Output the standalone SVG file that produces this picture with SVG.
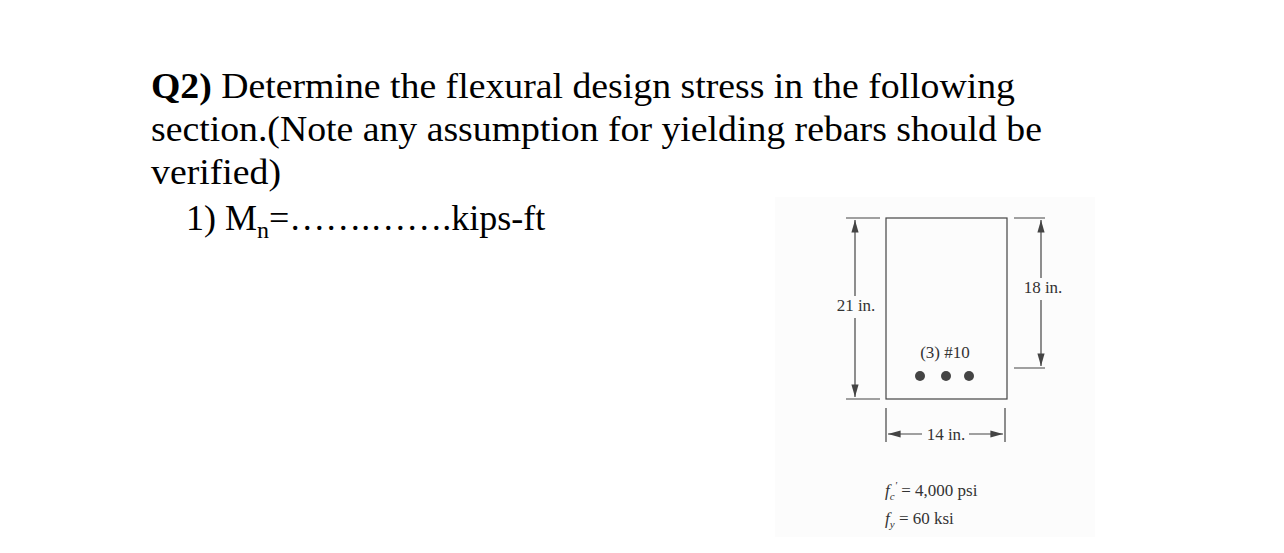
<svg xmlns="http://www.w3.org/2000/svg" width="1284" height="553" viewBox="0 0 1284 553">
<style>
.q{font-family:"Liberation Serif",serif;font-size:36px;fill:#000}
.d{font-family:"Liberation Serif",serif;font-size:17px;fill:#333}
.ln{stroke:#444;stroke-width:1.2;fill:none}
</style>
<defs><marker id="a" viewBox="0 0 14 10" refX="14" refY="5" markerWidth="14" markerHeight="9" orient="auto-start-reverse" markerUnits="userSpaceOnUse"><path d="M0,1L14,5L0,9z" fill="#444"/></marker></defs>
<rect width="1284" height="553" fill="#fff"/>
<text class="q" x="151" y="98" textLength="864" lengthAdjust="spacingAndGlyphs"><tspan font-weight="bold">Q2)</tspan> Determine the flexural design stress in the following</text>
<text class="q" x="151" y="141" textLength="891" lengthAdjust="spacingAndGlyphs">section.(Note any assumption for yielding rebars should be</text>
<text class="q" x="151" y="184" textLength="130" lengthAdjust="spacingAndGlyphs">verified)</text>
<text class="q" x="186" y="230">1) M<tspan font-size="24" dy="8">n</tspan><tspan dy="-8">=…….…….kips-ft</tspan></text>
<rect x="775" y="197" width="320" height="340" fill="#fcfcfc"/>
<g id="beam"><rect x="886" y="218" width="121" height="181" class="ln"/>
<circle cx="920" cy="376" r="5" fill="#444"/><circle cx="946" cy="376" r="5" fill="#444"/><circle cx="969" cy="376" r="5" fill="#444"/>
<text class="d" x="945" y="358" text-anchor="middle">(3) #10</text></g>
<g id="connectors">
<path class="ln" d="M846 218H880M846 399H880M1014 218H1045M1014 368H1045M886 408V442M1005 408V442"/>
<path class="ln" d="M855 296V220" marker-end="url(#a)"/><path class="ln" d="M855 318V397" marker-end="url(#a)"/>
<path class="ln" d="M1041 278V220" marker-end="url(#a)"/><path class="ln" d="M1041 300V366" marker-end="url(#a)"/>
<path class="ln" d="M922 434H888" marker-end="url(#a)"/><path class="ln" d="M969 434H1003" marker-end="url(#a)"/>
</g>
<text class="d" x="856" y="311" text-anchor="middle">21 in.</text>
<text class="d" x="1043" y="293" text-anchor="middle">18 in.</text>
<text class="d" x="946" y="440" text-anchor="middle">14 in.</text>
<text class="d" x="885" y="496" font-style="italic">f<tspan font-size="11" dy="4">c</tspan><tspan font-size="11" dy="-11">'</tspan><tspan font-style="normal" dy="7"> = 4,000 psi</tspan></text>
<text class="d" x="885" y="524" font-style="italic">f<tspan font-size="11" dy="4">y</tspan><tspan font-style="normal" dy="-4"> = 60 ksi</tspan></text>
</svg>
